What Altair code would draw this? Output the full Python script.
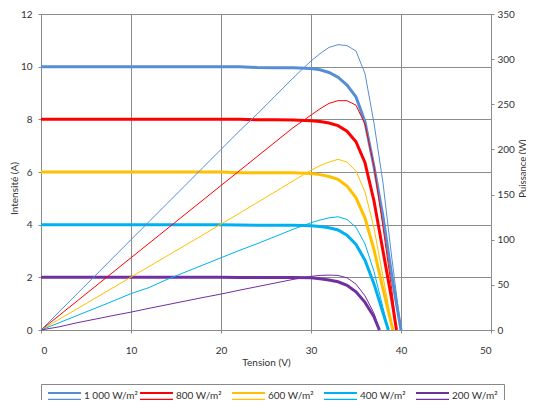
import altair as alt
import pandas as pd

series = ["1 000 W/m²", "800 W/m²", "600 W/m²", "400 W/m²", "200 W/m²"]
colors = ["#558ED5", "#FF0000", "#FFC000", "#00B0F0", "#7030A0"]

v_base = [0, 2, 4, 6, 8, 10, 12, 14, 16, 18, 20, 22, 24, 26, 28, 30, 31, 32, 33, 34, 35, 36, 37]

# Voltage (V) per series
v_1000 = v_base + [38, 39, 40]
v_800 = v_base + [38, 39, 39.5]
v_600 = v_base + [38, 38.6, 39.1]
v_400 = v_base + [38, 38.6]
v_200 = v_base + [37.6]

# Current (A) per series
i_1000 = [10, 10, 10, 10, 10, 10, 10, 10, 10, 10, 10, 10, 9.97, 9.96, 9.96, 9.93, 9.88, 9.78, 9.6, 9.3, 8.85, 7.9, 6.2, 4.3, 2.0, 0]
i_800 = [8, 8, 8, 8, 8, 8, 8, 8, 8, 8, 8, 8, 7.98, 7.98, 7.97, 7.95, 7.92, 7.86, 7.76, 7.55, 7.15, 6.35, 4.9, 3.0, 1.1, 0]
i_600 = [6, 6, 6, 6, 6, 6, 6, 6, 6, 6, 6, 5.97, 5.97, 5.97, 5.97, 5.94, 5.9, 5.83, 5.72, 5.47, 5.02, 4.25, 3.05, 1.55, 0.7, 0]
i_400 = [4, 4, 4, 4, 4, 4, 4, 4, 4, 4, 4, 3.99, 3.98, 3.98, 3.98, 3.96, 3.93, 3.88, 3.8, 3.6, 3.25, 2.65, 1.75, 0.65, 0]
i_200 = [2, 2, 2, 2, 2, 2, 2, 2, 2, 2, 2, 1.99, 1.99, 1.99, 1.99, 1.98, 1.95, 1.9, 1.83, 1.7, 1.45, 1.05, 0.5, 0]

# Power (W) per series
p_1000 = [0, 20, 40, 60, 80, 100, 120, 140, 160, 180, 200, 220, 239, 259, 279, 298, 306, 313, 316, 315, 309, 284, 229, 163, 78, 0]
p_800 = [0, 16, 32, 48, 64, 80, 96, 112, 128, 144, 160, 176, 192, 208, 224, 238, 245, 251, 254, 254, 249, 228, 181, 114, 43, 0]
p_600 = [0, 11.7, 23.4, 35.1, 46.8, 58.7, 70.3, 82, 93.7, 105.4, 117.4, 129, 141, 153, 165, 177, 182, 186, 189, 186, 176, 153, 113, 59, 27, 0]
p_400 = [0, 8, 16, 24, 32, 40.3, 47, 56, 64, 72, 80, 88, 95.5, 103.5, 111.5, 118.8, 121.8, 124.2, 125.4, 122.4, 113.8, 95.4, 64.8, 24.7, 0]
p_200 = [0, 3.5, 8, 12, 16, 19.8, 24, 28, 32, 36, 39.8, 44, 48, 52, 56, 59.4, 60.5, 60.8, 60.4, 57.8, 50.8, 37.8, 18.5, 0]

volts = [v_1000, v_800, v_600, v_400, v_200]
currents = [i_1000, i_800, i_600, i_400, i_200]
powers = [p_1000, p_800, p_600, p_400, p_200]

rows_i, rows_p = [], []
for name, vs, cs, ps in zip(series, volts, currents, powers):
    for k, v in enumerate(vs):
        rows_i.append({"V": v, "I": cs[k], "series": name, "idx": k})
        rows_p.append({"V": v, "P": ps[k], "series": name, "idx": k})
df_i = pd.DataFrame(rows_i)
df_p = pd.DataFrame(rows_p)

FONT = "Lato"
GRID = "#8C8C8C"
TXT = "#333333"

color = alt.Color(
    "series:N",
    scale=alt.Scale(domain=series, range=colors),
    sort=series,
    legend=alt.Legend(
        title=None,
        orient="none",
        legendX=0,
        legendY=370,
        direction="horizontal",
        columns=5,
        gridAlign="all",
        columnPadding=-7,
        padding=6,
        strokeColor="#888888",
        symbolType="M-1,-0.66H5.6M-1,0.66H5.6",
        symbolSize=100,
        symbolStrokeWidth=2,
        labelOffset=25,
        labelFont=FONT,
        labelFontSize=10,
        labelColor=TXT,
    ),
)

x_enc = alt.X(
    "V:Q",
    scale=alt.Scale(domain=[0, 50], nice=False),
    axis=alt.Axis(
        values=[0, 10, 20, 30, 40, 50],
        title="Tension (V)",
        grid=True,
        gridColor=GRID,
        domainColor=GRID,
        tickColor=GRID,
        tickSize=3,
        labelPadding=12,
        titlePadding=2,
    ),
)

iv = alt.Chart(df_i).mark_line(strokeWidth=3).encode(
    x=x_enc,
    y=alt.Y(
        "I:Q",
        scale=alt.Scale(domain=[0, 12], nice=False),
        axis=alt.Axis(
            values=[0, 2, 4, 6, 8, 10, 12],
            title="Intensité (A)",
            grid=True,
            gridColor=GRID,
            domainColor=GRID,
            tickColor=GRID,
            tickSize=3,
            labelPadding=6,
            titleX=-22,
            titleY=174,
        ),
    ),
    color=color,
    order="idx:Q",
)

pv = alt.Chart(df_p).mark_line(strokeWidth=1).encode(
    x=x_enc,
    y=alt.Y(
        "P:Q",
        scale=alt.Scale(domain=[0, 350], nice=False),
        axis=alt.Axis(
            orient="right",
            values=[0, 50, 100, 150, 200, 250, 300, 350],
            title="Puissance (W)",
            titleFontSize=9.5,
            titleAngle=270,
            titleBaseline="middle",
            titleX=31,
            titleY=154,
            grid=False,
            domainColor=GRID,
            tickColor=GRID,
            tickSize=3,
            labelPadding=3,
        ),
    ),
    color=color,
    order="idx:Q",
)

chart = (
    alt.layer(iv, pv)
    .resolve_scale(y="independent")
    .properties(
        width=450,
        height=316,
        autosize=alt.AutoSizeParams(type="none"),
        padding={"left": 33, "top": 6, "right": 35, "bottom": 70},
    )
    .configure_view(stroke=None)
    .configure_axis(
        labelFont=FONT,
        labelFontSize=10,
        labelColor=TXT,
        titleFont=FONT,
        titleFontSize=10,
        titleFontWeight="normal",
        titleColor=TXT,
        gridWidth=1,
    )
)

chart.save("out.html", embed_options={"renderer": "svg", "actions": False})
